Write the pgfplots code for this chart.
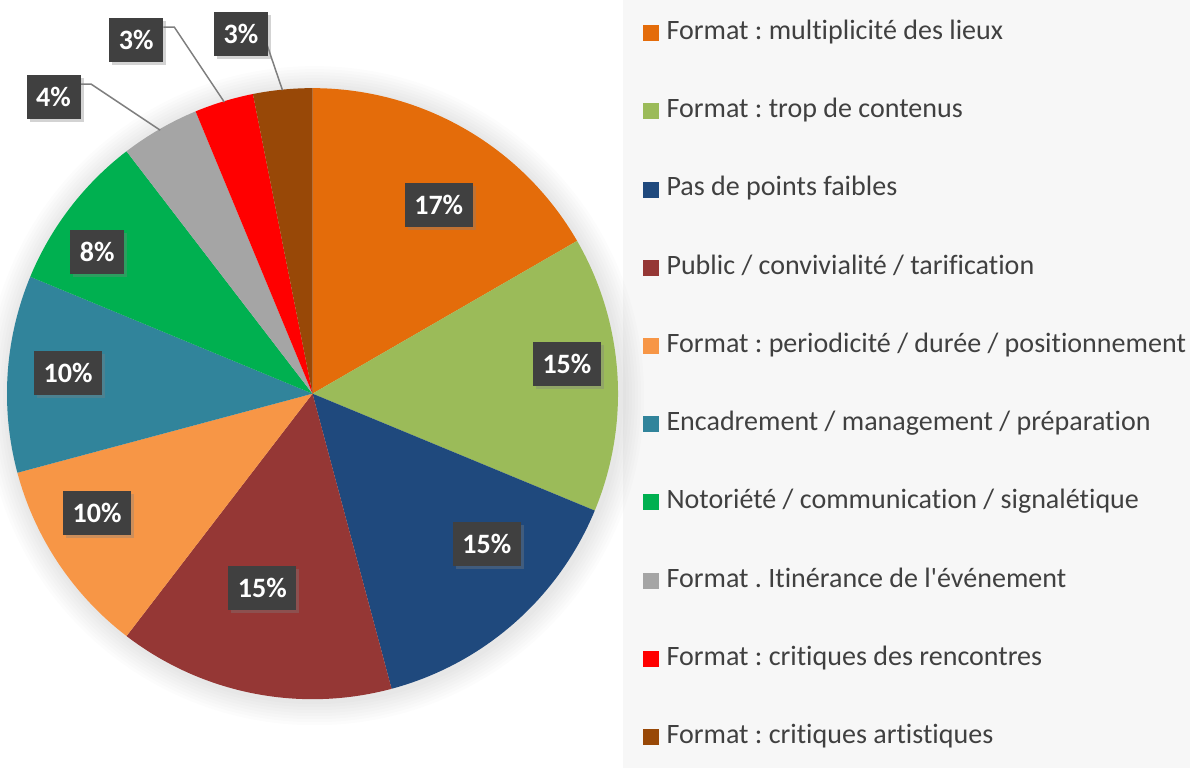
\documentclass[border=0pt]{standalone}
\usepackage{pgfplots}
\pgfplotsset{compat=1.18}
\usepackage{pgfplotstable}
\usetikzlibrary{shadows}
\usepackage{fontspec}
\setmainfont{Carlito}[Ligatures={TeXOff,NoCommon}]
\frenchspacing
\definecolor{cA}{HTML}{E46C0A}
\definecolor{cB}{HTML}{9BBB59}
\definecolor{cC}{HTML}{1F497D}
\definecolor{cD}{HTML}{953735}
\definecolor{cE}{HTML}{F79646}
\definecolor{cF}{HTML}{31849B}
\definecolor{cG}{HTML}{00B050}
\definecolor{cH}{HTML}{A5A5A5}
\definecolor{cI}{HTML}{FF0000}
\definecolor{cJ}{HTML}{984807}
\definecolor{lblbg}{HTML}{404040}
\definecolor{legbg}{HTML}{F7F7F7}
\definecolor{legtxt}{HTML}{404040}
\definecolor{leader}{HTML}{7F7F7F}
% value, colour, label x, label y (pixel coordinates, y upwards), percentage, legend text
\pgfplotstableread[col sep=semicolon]{
v;c;lx;ly;p;name
16;cA;440;562;17;Format : multiplicité des lieux
14;cB;568;403.5;15;Format : trop de contenus
14;cC;488;223.5;15;Pas de points faibles
14;cD;264;180;15;Public / convivialité / tarification
10;cE;99;255;10;Format : periodicité / durée / positionnement
10;cF;70;395;10;Encadrement / management / préparation
8;cG;99;515;8;Notoriété / communication / signalétique
4;cH;55.5;670;4;Format . Itinérance de l'événement
3;cI;138;727.5;3;Format : critiques des rencontres
3;cJ;242.5;733;3;Format : critiques artistiques
}\piedata
\begin{document}
\begin{tikzpicture}
\begin{axis}[
  width=595pt, height=383.5pt, scale only axis,
  xmin=0, xmax=1190, ymin=0, ymax=767,
  hide axis, clip=false,
]
% legend background
\fill[legbg] (axis cs:624,0) rectangle (axis cs:1190,767);
% soft shadow around the pie
\pgfplotsforeachungrouped \k in {1,...,8}{
  \pgfmathsetmacro\rr{152.5+1.5*\k}
  \edef\temp{\noexpand\fill[overlay, black, opacity=0.012] (axis cs:316,372) circle[radius=\rr pt];}
  \temp
}
% pie slices (total 96 answers, 3.75 degrees each)
\gdef\cum{0}
\pgfplotsforeachungrouped \i in {0,...,9}{
  \pgfplotstablegetelem{\i}{v}\of\piedata \let\val\pgfplotsretval
  \pgfplotstablegetelem{\i}{c}\of\piedata \let\col\pgfplotsretval
  \pgfmathsetmacro\a{90-\cum*3.75}
  \pgfmathsetmacro\b{90-(\cum+\val)*3.75}
  \pgfmathsetmacro\sx{314+305*cos(\a)}
  \pgfmathsetmacro\sy{374+305*sin(\a)}
  \edef\temp{\noexpand\fill[fill=\col] (axis cs:314,374) -- (axis cs:\sx,\sy) arc[start angle=\a, end angle=\b, radius=152.5pt] -- cycle;}
  \temp
  \pgfmathsetmacro\newcum{\cum+\val}
  \xdef\cum{\newcum}
}
% leader lines
\draw[leader, line width=0.75pt] (axis cs:82,683) -- (axis cs:93,683) -- (axis cs:162,637);
\draw[leader, line width=0.75pt] (axis cs:165,740) -- (axis cs:176,740) -- (axis cs:226,665);
\draw[leader, line width=0.75pt] (axis cs:268,724) -- (axis cs:284,677);
% data labels and legend
\pgfplotsforeachungrouped \i in {0,...,9}{
  \pgfplotstablegetelem{\i}{c}\of\piedata \let\col\pgfplotsretval
  \pgfplotstablegetelem{\i}{lx}\of\piedata \let\lx\pgfplotsretval
  \pgfplotstablegetelem{\i}{ly}\of\piedata \let\ly\pgfplotsretval
  \pgfplotstablegetelem{\i}{p}\of\piedata \let\pc\pgfplotsretval
  \pgfplotstablegetelem{\i}{name}\of\piedata \let\nm\pgfplotsretval
  \pgfmathsetmacro\legy{734-\i*78.1}
  \pgfmathsetmacro\legyl{\legy-8}
  \pgfmathsetmacro\legyh{\legy+8}
  \edef\temp{%
    \noexpand\node[fill=lblbg, text=white, font=\noexpand\fontsize{14}{16}\noexpand\selectfont\noexpand\bfseries,
      inner xsep=4.8pt, inner ysep=0pt, minimum height=22pt,
      drop shadow={opacity=0.35, shadow xshift=1.5pt, shadow yshift=-1.5pt}]
      at (axis cs:\lx,\ly) {\pc\noexpand\%};
    \noexpand\fill[\col] (axis cs:644,\legyl) rectangle (axis cs:660,\legyh);
    \noexpand\node[anchor=west, text=legtxt, inner sep=0pt, font=\noexpand\fontsize{14}{16}\noexpand\selectfont]
      at (axis cs:667,\legy) {\noexpand\strut \nm};
  }
  \temp
}
\end{axis}
\end{tikzpicture}
\end{document}
